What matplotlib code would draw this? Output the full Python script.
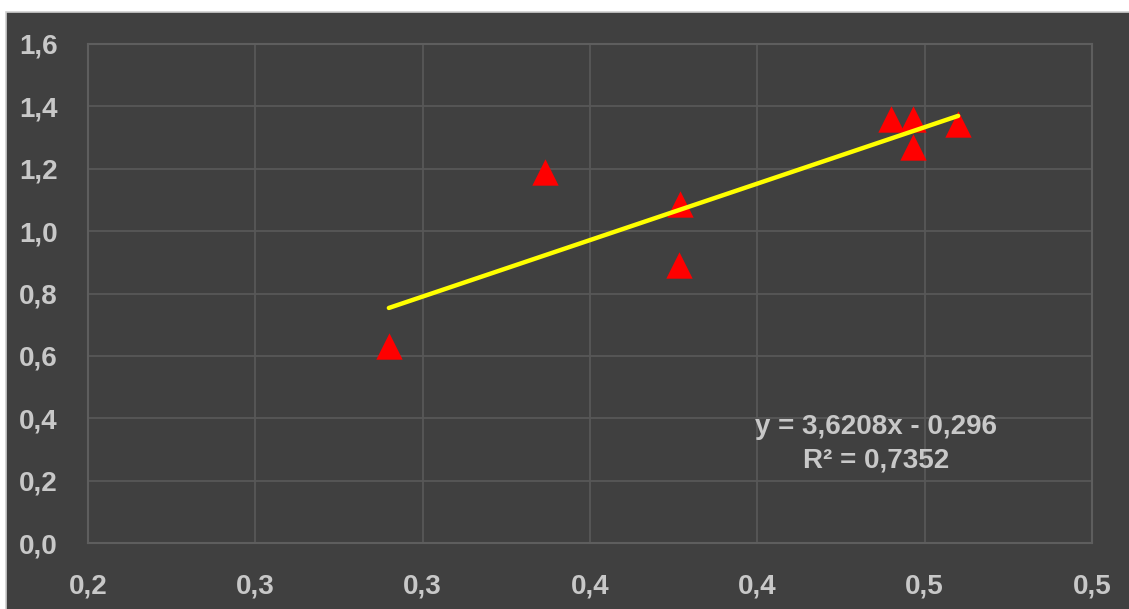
import matplotlib
matplotlib.use("Agg")
import matplotlib.pyplot as plt
from matplotlib.patches import Rectangle
import matplotlib.font_manager as fm
import numpy as np

# Scatter data
x_vals = [0.2899, 0.3366, 0.3769, 0.3766, 0.4399, 0.4465, 0.4465, 0.4600]
y_vals = [0.633, 1.189, 1.086, 0.890, 1.359, 1.359, 1.269, 1.343]

# Linear trend (as stated in the equation label)
slope = 3.6208
intercept = -0.296
r_squared = 0.7352

x_ticks = [0.20, 0.25, 0.30, 0.35, 0.40, 0.45, 0.50]
x_tick_labels = ["0,2", "0,3", "0,3", "0,4", "0,4", "0,5", "0,5"]
y_ticks = [0.0, 0.2, 0.4, 0.6, 0.8, 1.0, 1.2, 1.4, 1.6]
y_tick_labels = ["0,0", "0,2", "0,4", "0,6", "0,8", "1,0", "1,2", "1,4", "1,6"]

BG = "#404040"
GRID = "#585858"
TEXT = "#c8c8c8"

names = {f.name for f in fm.fontManager.ttflist}
family = "Liberation Sans Narrow" if "Liberation Sans Narrow" in names else "Liberation Sans"
plt.rcParams["font.family"] = [family, "DejaVu Sans"]

W, H = 1129, 609
fig = plt.figure(figsize=(W / 100, H / 100), dpi=100, facecolor="white")

# Dark chart area with a thin light border
frame = Rectangle((6 / W, -0.01), 1.0, (H - 12) / H + 0.01,
                  transform=fig.transFigure, facecolor=BG,
                  edgecolor="#d0d0d0", linewidth=1.2, zorder=-10)
fig.patches.append(frame)

ax = fig.add_axes([88 / W, (H - 543) / H, (1092 - 88) / W, (543 - 44) / H])
ax.set_facecolor(BG)
ax.set_zorder(1)

ax.set_xlim(0.20, 0.50)
ax.set_ylim(0.0, 1.6)
ax.set_xticks(x_ticks)
ax.set_xticklabels(x_tick_labels)
ax.set_yticks(y_ticks)
ax.set_yticklabels(y_tick_labels)

ax.grid(True, color=GRID, linewidth=1.3, zorder=1)
ax.set_axisbelow(True)
for s in ax.spines.values():
    s.set_color("#5e5e5e")
    s.set_linewidth(1.5)
ax.tick_params(length=0, colors=TEXT, labelsize=20, pad=22)
for lbl in ax.get_xticklabels() + ax.get_yticklabels():
    lbl.set_fontweight("bold")
    lbl.set_color(TEXT)

ax.scatter(x_vals, y_vals, marker="^", s=19 ** 2, color="#ff0000",
           linewidths=0, zorder=3)

xs = np.array([min(x_vals), max(x_vals)])
ax.plot(xs, slope * xs + intercept, color="#ffff00", linewidth=3.2,
        solid_capstyle="round", zorder=4)

eq = f"y = {slope:.4f}x - {abs(intercept):.3f}".replace(".", ",")
r2 = f"R² = {r_squared:.4f}".replace(".", ",")
ax.text(0.4355, 0.318, eq + "\n" + r2, ha="center", va="center",
        fontsize=20, fontweight="bold", color=TEXT, linespacing=1.35,
        zorder=5)

fig.savefig("out.png", dpi=100, facecolor="white")
